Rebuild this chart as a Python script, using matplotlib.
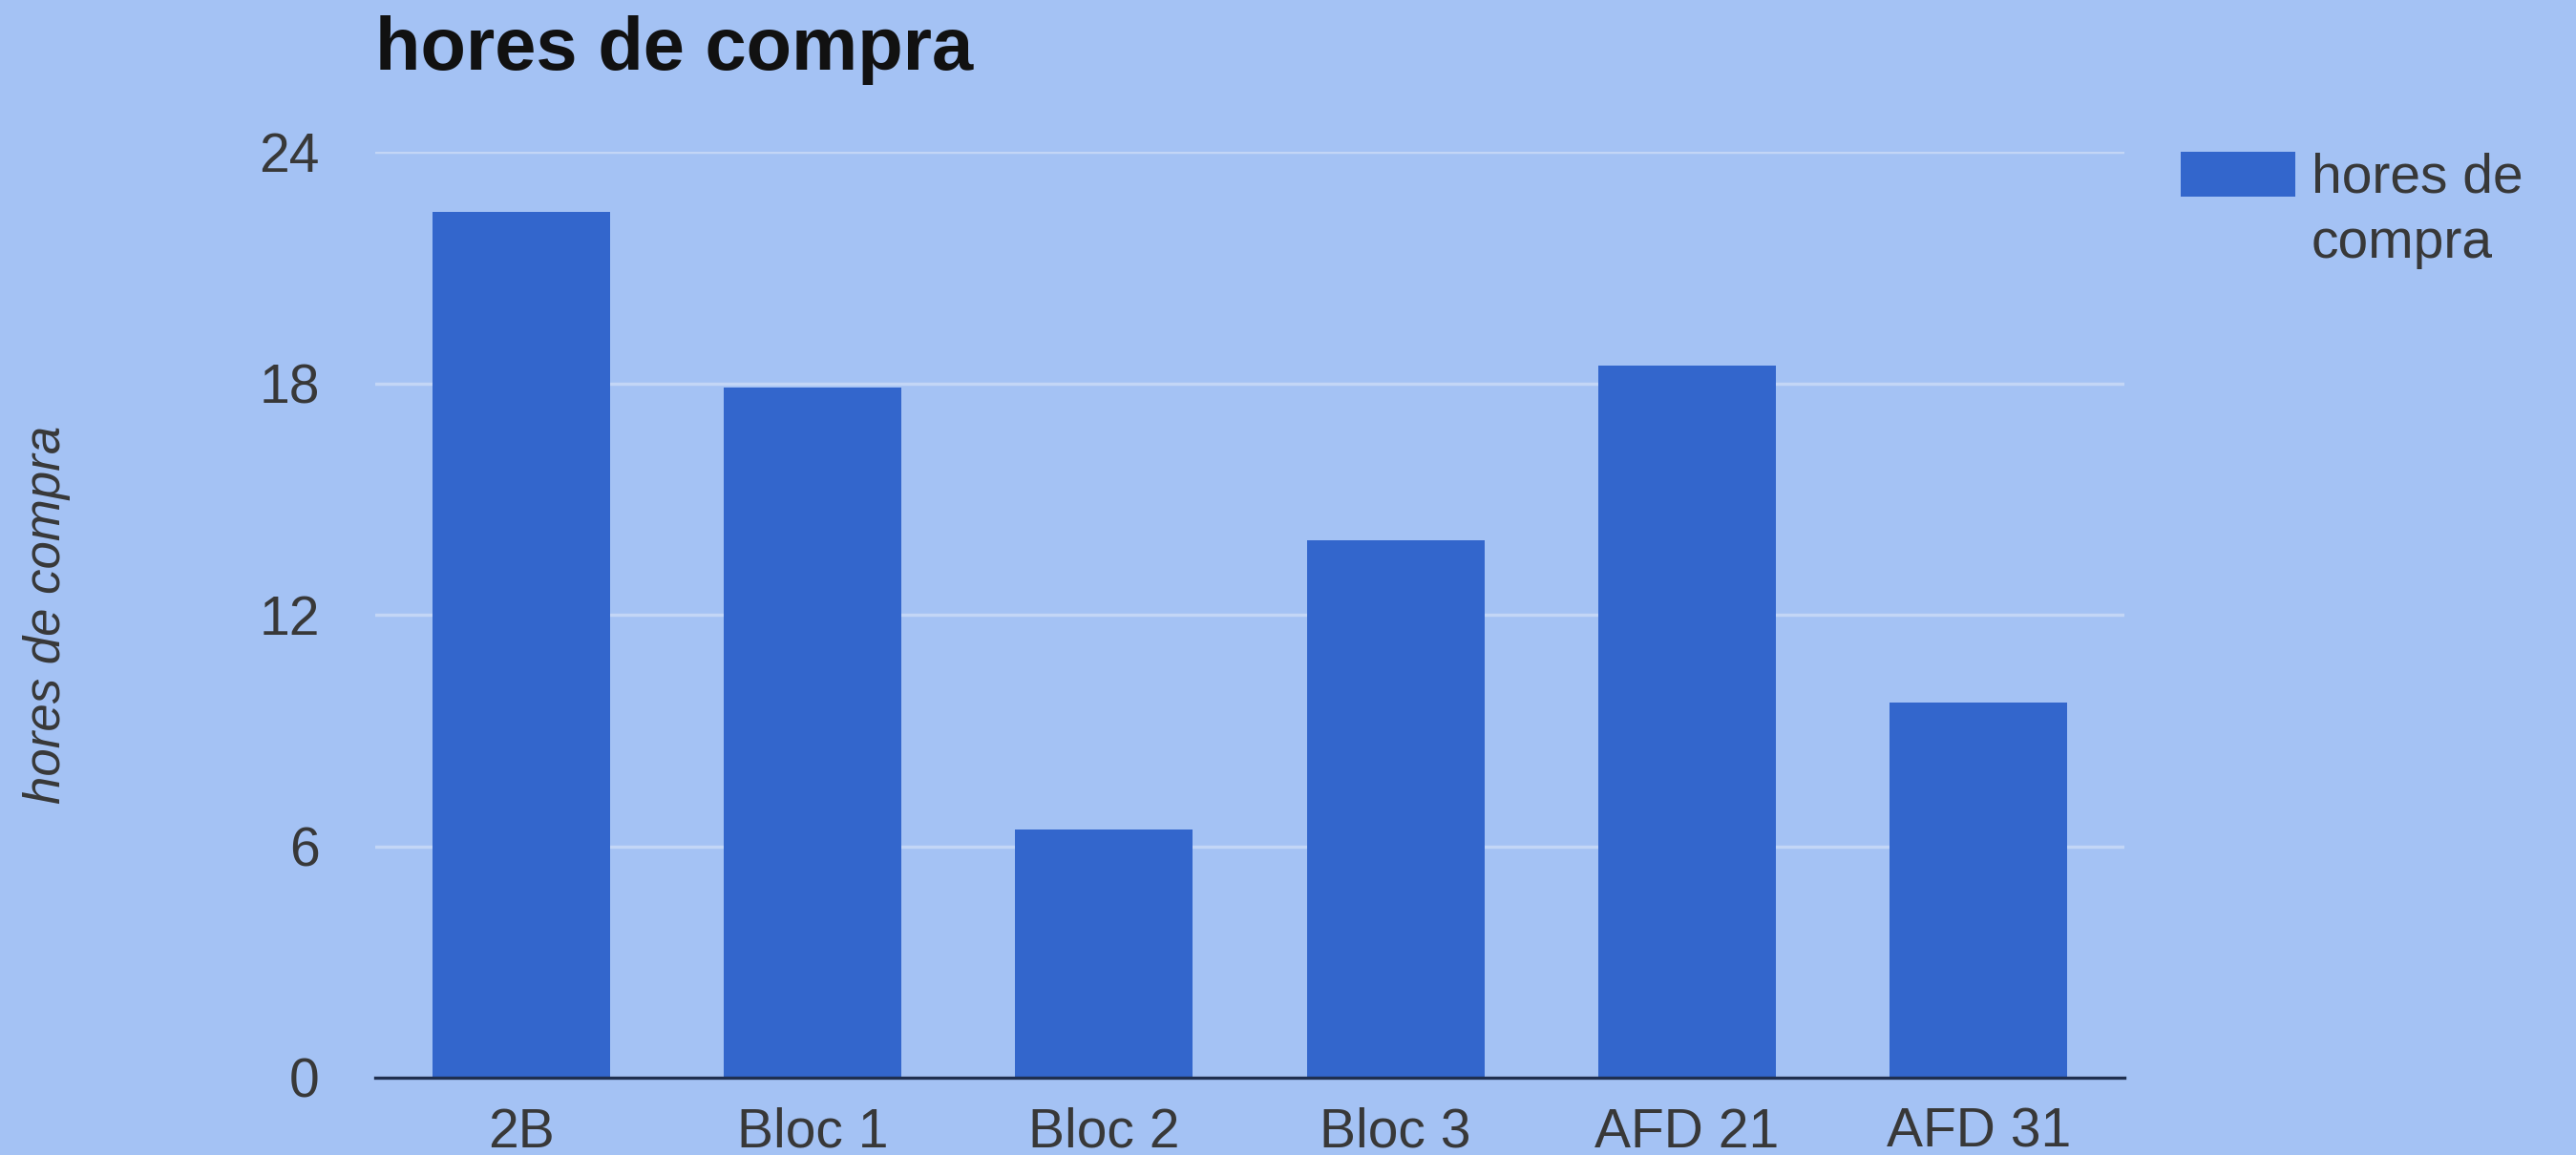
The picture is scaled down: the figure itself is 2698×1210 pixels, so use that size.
import matplotlib
matplotlib.use("Agg")
import matplotlib.pyplot as plt
import numpy as np

# data
categories = ["2B", "Bloc 1", "Bloc 2", "Bloc 3", "AFD 21", "AFD 31"]
hours = [22.45, 17.9, 6.43, 13.93, 18.46, 9.72]
yticks = [0, 6, 12, 18, 24]
series_name = "hores de compra"

bg = "#a4c2f4"
bar_col = "#3366cc"
text_col = "#383838"

plt.rcParams["font.family"] = ["Liberation Sans", "DejaVu Sans"]

fig = plt.figure(figsize=(26.98, 12.10), dpi=100, facecolor=bg)
ax = fig.add_axes([393 / 2698, 1 - 1129 / 1210, 1832 / 2698, 970 / 1210])
ax.set_facecolor(bg)

x = np.arange(len(categories))
ax.bar(x, hours, width=0.61, color=bar_col, label="hores de\ncompra", zorder=3)

ax.set_xlim(-0.5, len(categories) - 0.5)
ax.set_ylim(0, 24)
ax.set_yticks(yticks)
ax.set_xticks(x)
ax.set_xticklabels(categories)
ax.grid(axis="y", color="#c3d6f6", linewidth=2.5, zorder=0)

for s in ["top", "right", "left"]:
    ax.spines[s].set_visible(False)
ax.spines["bottom"].set_color("#1f2f4f")
ax.spines["bottom"].set_linewidth(2.4)
ax.spines["bottom"].set_zorder(4)

ax.tick_params(axis="both", length=0, labelsize=41, labelcolor=text_col)
ax.tick_params(axis="y", pad=42)
ax.tick_params(axis="x", pad=22)

ax.set_title(series_name, loc="left", fontsize=56, fontweight="bold",
             color="#111111", pad=62)
ax.set_ylabel(series_name, fontsize=38, style="italic", color=text_col)
ax.yaxis.set_label_coords(-0.174, 0.5)

leg = ax.legend(loc="upper left", bbox_to_anchor=(1.02, 1.023), frameon=False,
                fontsize=41, handlelength=2.1, handleheight=0.88,
                handletextpad=0.3, borderaxespad=0, labelcolor=text_col)
leg.get_texts()[0].set_linespacing(1.35)
# put the colour box next to the first line, as in the source chart
for row in leg._legend_handle_box.get_children():
    for item in row.get_children():
        item.align = "top"

fig.savefig("out.png", dpi=100, facecolor=bg)
